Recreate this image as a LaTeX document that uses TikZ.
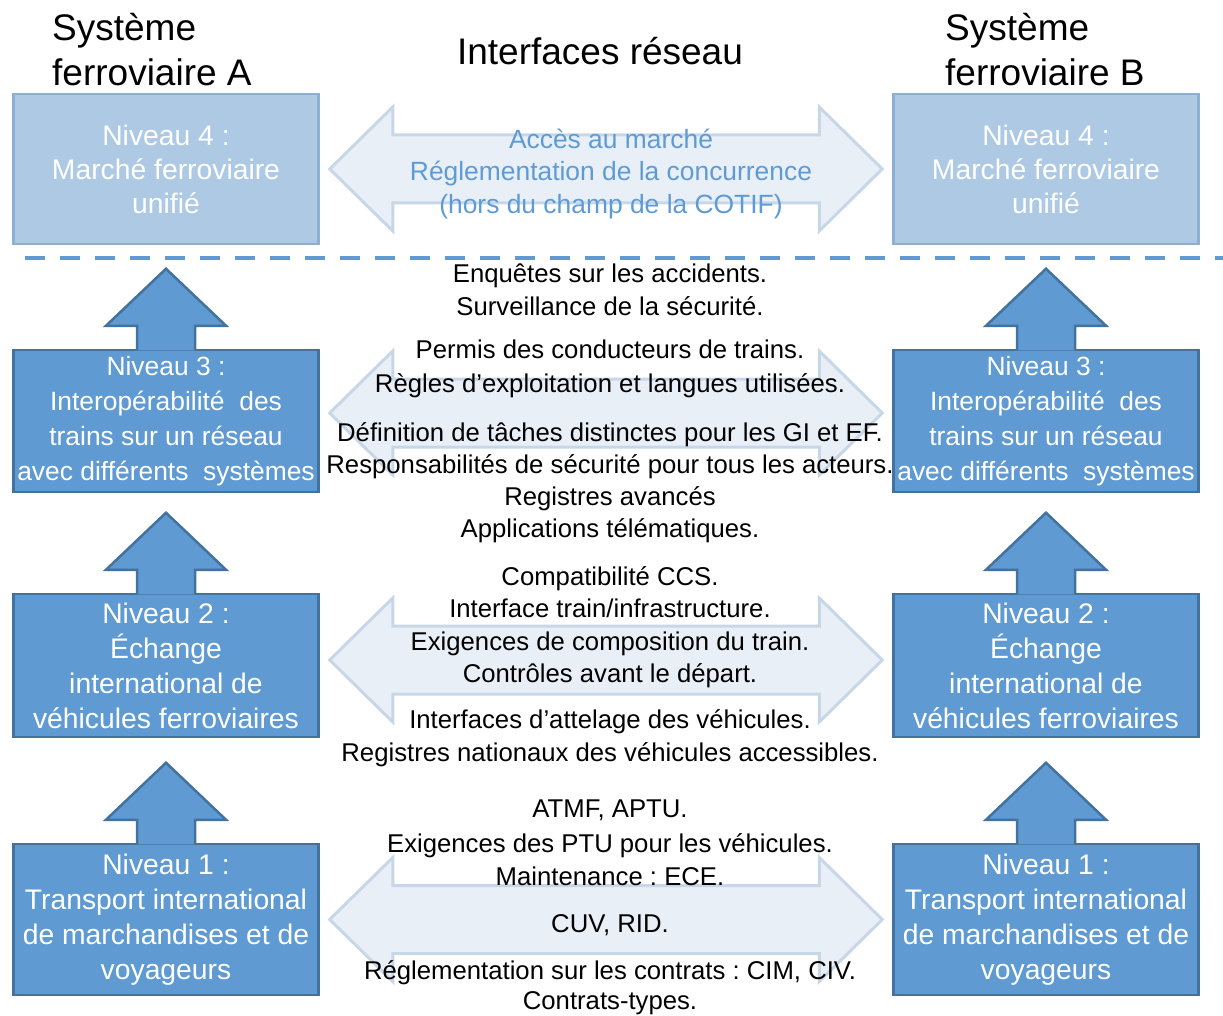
\documentclass[tikz,border=0pt]{standalone}
\usepackage{fontspec}
\setmainfont{Liberation Sans}
\usetikzlibrary{calc}
\frenchspacing

\definecolor{levelFill}{HTML}{5F9AD2}
\definecolor{levelEdge}{HTML}{44729F}
\definecolor{topFill}{HTML}{AEC9E4}
\definecolor{topEdge}{HTML}{8DB0D2}
\definecolor{linkFill}{HTML}{E9EFF7}
\definecolor{linkEdge}{HTML}{C8D7E8}
\definecolor{linkText}{HTML}{5E9BD6}

\begin{document}
\begin{tikzpicture}[x=1pt, y=-1pt,
    boxStyle/.style={rectangle, draw=levelEdge, line width=2.5pt, fill=levelFill, text=white, minimum width=305pt, align=center, inner sep=0pt, font=\fontsize{28.3}{35}\selectfont},
    topBoxStyle/.style={boxStyle, draw=topEdge, fill=topFill, font=\fontsize{28.3}{34}\selectfont},
    upStyle/.style={draw=levelEdge, line width=2.5pt, fill=levelFill},
    linkStyle/.style={draw=linkEdge, line width=3pt, fill=linkFill},
    lineStyle/.style={anchor=base, inner sep=0pt, font=\fontsize{25.7}{32}\selectfont},
    titleStyle/.style={align=left, anchor=base west, inner sep=0pt, font=\fontsize{37}{45}\selectfont}]

    \useasboundingbox (0,0) rectangle (1223,1016);

    % titles
    \node[titleStyle] (sysA) at (52,86) {Système\\ferroviaire A};
    \node[titleStyle] (sysB) at (945,86) {Système\\ferroviaire B};
    \node[anchor=base, inner sep=0pt, font=\fontsize{37}{45}\selectfont] (iface) at (600,65) {Interfaces réseau};

    % system A
    \node[topBoxStyle, minimum height=150pt] (a4) at (166,169) {Niveau 4 :\\Marché ferroviaire\\unifié};
    \node[boxStyle, minimum height=142pt, font=\fontsize{26.4}{35}\selectfont] (a3) at (166,421) {Niveau 3 :\\Interopérabilité\ \ des\\trains sur un réseau\\avec différents\ \ systèmes};
    \node[boxStyle, minimum height=143pt] (a2) at (166,665.5) {Niveau 2 :\\Échange\\international de\\véhicules ferroviaires};
    \node[boxStyle, minimum height=151pt] (a1) at (166,919.5) {Niveau 1 :\\Transport international\\de marchandises et de\\voyageurs};

    % system B
    \node[topBoxStyle, minimum height=150pt] (b4) at (1046,169) {Niveau 4 :\\Marché ferroviaire\\unifié};
    \node[boxStyle, minimum height=142pt, font=\fontsize{26.4}{35}\selectfont] (b3) at (1046,421) {Niveau 3 :\\Interopérabilité\ \ des\\trains sur un réseau\\avec différents\ \ systèmes};
    \node[boxStyle, minimum height=143pt] (b2) at (1046,665.5) {Niveau 2 :\\Échange\\international de\\véhicules ferroviaires};
    \node[boxStyle, minimum height=151pt] (b1) at (1046,919.5) {Niveau 1 :\\Transport international\\de marchandises et de\\voyageurs};

    % arrows up to the next level
    \foreach \n in {a3,a2,a1,b3,b2,b1}
        \draw[upStyle] ([xshift=-29pt,yshift=-1.5pt]\n.north) -- ++(0,-24.5) -- ++(-31,0) -- ++(60,-57)
            -- ++(60,57) -- ++(-31,0) -- ++(0,24.5);

    % interfaces between A and B
    \foreach \l/\dy in {4/0, 3/8, 2/5.5, 1/0} {
        \coordinate (p) at ([xshift=10pt,yshift=\dy pt]a\l.east);
        \coordinate (q) at ([xshift=-10pt,yshift=\dy pt]b\l.west);
        \draw[linkStyle] (p) -- ++(63,-62) -- ++(0,28) -- ($(q)+(-63,-34)$) -- ++(0,-28) -- (q)
            -- ++(-63,62) -- ++(0,-28) -- ($(p)+(63,34)$) -- ++(0,28) -- cycle;
    }

    \draw[levelFill, line width=4pt, dash pattern=on 20pt off 15pt] (25,258) -- (1223,258);

    \foreach \y/\t in {149/{Accès au marché}, 181/{Réglementation de la concurrence}, 214/{(hors du champ de la COTIF)}}
        \node[lineStyle, text=linkText, font=\fontsize{26.4}{32}\selectfont] (market\y) at (611,\y) {\t};

    \foreach \y/\t in {283/{Enquêtes sur les accidents.}, 316/{Surveillance de la sécurité.},
                       358/{Permis des conducteurs de trains.}, 392/{Règles d’exploitation et langues utilisées.},
                       441/{Définition de tâches distinctes pour les GI et EF.},
                       473/{Responsabilités de sécurité pour tous les acteurs.},
                       505/{Registres avancés}, 537/{Applications télématiques.},
                       585/{Compatibilité CCS.}, 617/{Interface train/infrastructure.},
                       650/{Exigences de composition du train.}, 682/{Contrôles avant le départ.},
                       728/{Interfaces d’attelage des véhicules.},
                       761/{Registres nationaux des véhicules accessibles.},
                       817/{ATMF, APTU.}, 852/{Exigences des PTU pour les véhicules.},
                       885/{Maintenance : ECE.}, 932/{CUV, RID.},
                       979/{Réglementation sur les contrats : CIM, CIV.}, 1009/{Contrats-types.}}
        \node[lineStyle] (rule\y) at (610,\y) {\t};
\end{tikzpicture}
\end{document}
